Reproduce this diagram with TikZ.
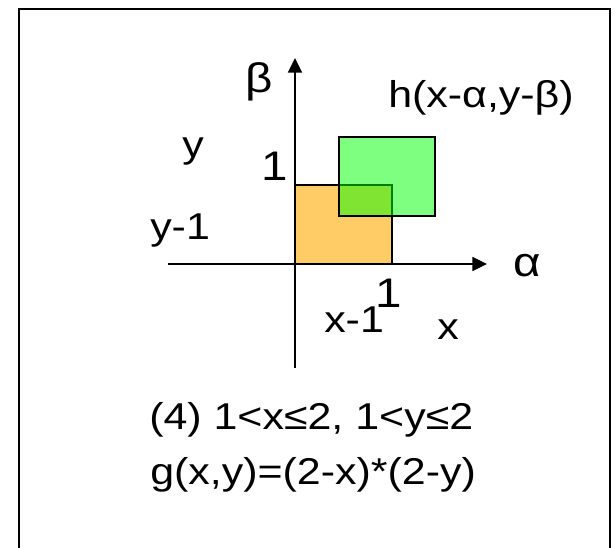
\documentclass[tikz,border=0pt]{standalone}
\usepackage{fontspec}
\setmainfont{Liberation Sans}[FakeStretch=1.15]
\usetikzlibrary{arrows.meta}
\definecolor{sqorange}{RGB}{255,204,102}
\definecolor{sqgreen}{RGB}{0,255,0}
\begin{document}
\begin{tikzpicture}[x=0.75pt,y=-0.75pt,
  lbl/.style={inner sep=0pt, font=\fontsize{28}{32}\selectfont},
  biglbl/.style={inner sep=0pt, font=\fontsize{31}{36}\selectfont},
  axis/.style={line width=1.2pt, -{Triangle[length=11pt,width=10.5pt]}},
  sq/.style={draw=black, line width=1.2pt}]
\useasboundingbox (0,0) rectangle (615,548);
% frame
\draw[line width=1.5pt] (19,548) -- (19,9) -- (610,9) -- (610,548);
% squares
\filldraw[sq, fill=sqorange] (295,185) rectangle (392,264);
\filldraw[sq, fill=sqgreen, fill opacity=0.5] (339,137) rectangle (435,216);
% axes
\coordinate (xs) at (168,264);
\coordinate (xe) at (487,264);
\coordinate (ys) at (295,368);
\coordinate (ye) at (295,58);
\draw[axis] (xs) -- (xe);
\draw[axis] (ys) -- (ye);
% labels
\node[biglbl] (beta) at (259,82) {β};
\node[biglbl] (alpha) at (527,266) {α};
\node[lbl, anchor=base west] (h) at (388,108) {h(x-α,y-β)};
\node[lbl, anchor=base] (ylab) at (193,158) {y};
\node[biglbl, anchor=base] (yone) at (275,181) {1};
\node[lbl, anchor=base west] (ym) at (150,240) {y-1};
\node[biglbl, anchor=base] (xone) at (389,308) {1};
\node[lbl, anchor=base west] (xm) at (324,333) {x-1};
\node[lbl, anchor=base] (xlab) at (448,340) {x};
\node[lbl, anchor=base west] (l1) at (149,430) {(4) 1<x≤2, 1<y≤2};
\node[lbl, anchor=base west] (l2) at (150,485) {g(x,y)=(2-x)*(2-y)};
\end{tikzpicture}
\end{document}
